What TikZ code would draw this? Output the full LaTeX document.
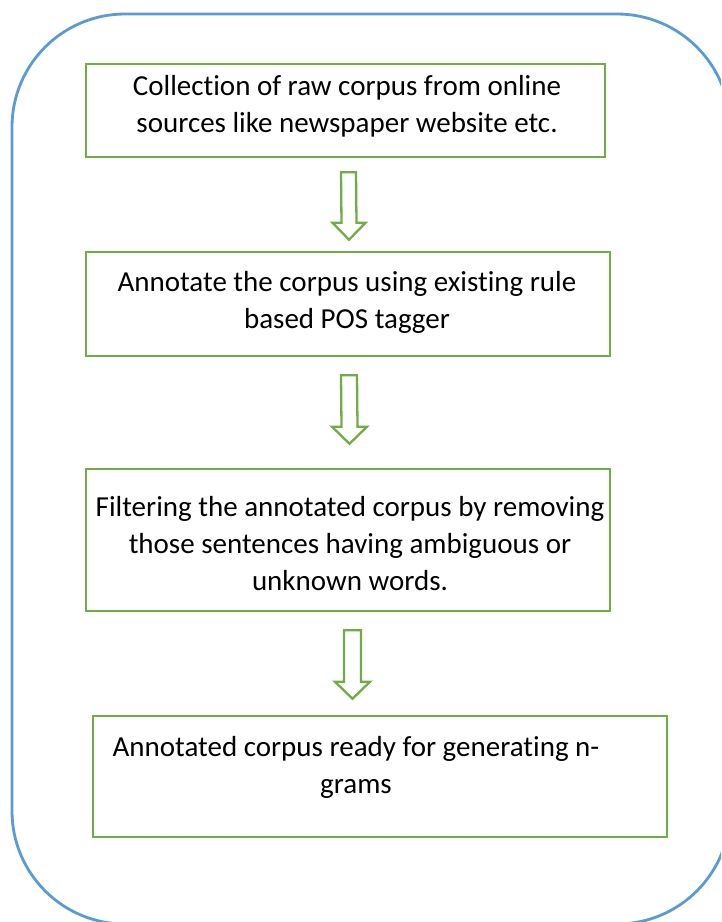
\documentclass[tikz,border=0pt]{standalone}
\usepackage{fontspec}
\setmainfont{Carlito}[RawFeature={-liga;-clig;-dlig}]
\usetikzlibrary{calc}
\definecolor{boxgreen}{HTML}{70AD47}
\definecolor{frameblue}{HTML}{5B9BD5}
\tikzset{
  stepbox/.style={draw=boxgreen, line width=2.5pt, inner sep=0pt},
  steptext/.style={align=center, inner sep=0pt, font=\fontsize{29}{37}\selectfont, text=black},
  blockarrow/.style={draw=boxgreen, line width=2.3pt, fill=white, line join=miter},
  frame/.style={draw=frameblue, line width=2.8pt, rounded corners=113pt}
}
\begin{document}
\begin{tikzpicture}[x=1pt,y=-1pt]
\useasboundingbox (0,0) rectangle (721,922);
\clip (0,0) rectangle (721,922);
\draw[frame] (12,14) rectangle (730,924);
% boxes
\node[stepbox, minimum width=519pt, minimum height=93pt] (b1) at (345.5,110.5) {};
\node[stepbox, minimum width=524pt, minimum height=104pt] (b2) at (348,304) {};
\node[stepbox, minimum width=524pt, minimum height=142pt] (b3) at (348,540) {};
\node[stepbox, minimum width=574pt, minimum height=121pt] (b4) at (380,776.5) {};
% texts
\node[steptext] (t1) at (347,106) {Collection of raw corpus from online\\sources like newspaper website etc.};
\node[steptext] (t2) at (347,302) {Annotate the corpus using existing rule\\based POS tagger};
\node[steptext] (t3) at (350,544) {Filtering the annotated corpus by removing\\those sentences having ambiguous or\\unknown words.};
\node[steptext] (t4) at (356,767) {Annotated corpus ready for generating n-\\grams};
% block arrows
\coordinate (a1t) at ($(b1.south)+(3,14)$);
\coordinate (a1p) at ($(b2.north)+(1,-11)$);
\draw[blockarrow] ($(a1t)+(-7.5,0)$) -- ($(a1t)+(7.5,0)$) -- ($(a1p)+(7.5,-17)$) -- ($(a1p)+(16.5,-17)$) -- (a1p) -- ($(a1p)+(-16.5,-17)$) -- ($(a1p)+(-7.5,-17)$) -- cycle;
\coordinate (a2t) at ($(b2.south)+(1,18)$);
\coordinate (a2p) at ($(b3.north)+(1.5,-24)$);
\draw[blockarrow] ($(a2t)+(-8,0)$) -- ($(a2t)+(8,0)$) -- ($(a2p)+(8,-17)$) -- ($(a2p)+(17.5,-17)$) -- (a2p) -- ($(a2p)+(-17.5,-17)$) -- ($(a2p)+(-8,-17)$) -- cycle;
\coordinate (a3t) at ($(b3.south)+(4.5,18)$);
\coordinate (a3p) at ($(b4.north)+(-27.5,-16)$);
\draw[blockarrow] ($(a3t)+(-8.5,0)$) -- ($(a3t)+(8.5,0)$) -- ($(a3p)+(8.5,-17)$) -- ($(a3p)+(17.5,-17)$) -- (a3p) -- ($(a3p)+(-17.5,-17)$) -- ($(a3p)+(-8.5,-17)$) -- cycle;
\end{tikzpicture}
\end{document}
